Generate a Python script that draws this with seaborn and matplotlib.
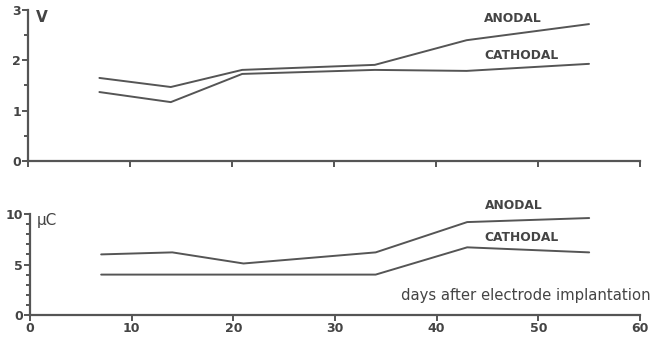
import matplotlib
matplotlib.use("Agg")
import matplotlib.pyplot as plt
import seaborn as sns
import pandas as pd
from matplotlib.ticker import MultipleLocator

# Measurement days after electrode implantation
days = [7, 14, 21, 34, 43, 55]

# Threshold voltage (V)
voltage_anodal = [1.65, 1.47, 1.81, 1.91, 2.40, 2.72]
voltage_cathodal = [1.37, 1.17, 1.73, 1.81, 1.79, 1.93]

# Threshold charge (µC)
charge_anodal = [6.0, 6.2, 5.1, 6.2, 9.2, 9.6]
charge_cathodal = [4.0, 4.0, 4.0, 4.0, 6.7, 6.2]

x_ticks = [0, 10, 20, 30, 40, 50, 60]

ink = "#555555"
text_ink = "#444444"

sns.set_theme(style="white")
plt.rcParams["font.family"] = ["DejaVu Sans"]

volt = pd.DataFrame({
    "day": days * 2,
    "value": voltage_anodal + voltage_cathodal,
    "polarity": ["ANODAL"] * len(days) + ["CATHODAL"] * len(days),
})
charge = pd.DataFrame({
    "day": days * 2,
    "value": charge_anodal + charge_cathodal,
    "polarity": ["ANODAL"] * len(days) + ["CATHODAL"] * len(days),
})

fig = plt.figure(figsize=(6.52, 3.37), dpi=100)
W, H = 652, 337
ax1 = fig.add_axes([28 / W, 1 - 161 / H, (640 - 28) / W, (161 - 10) / H])
ax2 = fig.add_axes([30 / W, 1 - 315 / H, (640 - 30) / W, (315 - 214) / H])

palette = {"ANODAL": ink, "CATHODAL": ink}
sns.lineplot(data=volt, x="day", y="value", hue="polarity", palette=palette,
             ax=ax1, legend=False, linewidth=1.4)
sns.lineplot(data=charge, x="day", y="value", hue="polarity", palette=palette,
             ax=ax2, legend=False, linewidth=1.4)

for ax in (ax1, ax2):
    ax.set_xlim(0, 60)
    ax.set_xticks(x_ticks)
    ax.set_xlabel("")
    ax.set_ylabel("")
    ax.set_facecolor("none")
    for side in ("top", "right"):
        ax.spines[side].set_visible(False)
    for side in ("left", "bottom"):
        ax.spines[side].set_color(ink)
        ax.spines[side].set_linewidth(1.6)
    ax.tick_params(axis="both", which="both", direction="out", color=ink,
                   width=1.4, labelcolor=text_ink, labelsize=9, pad=1,
                   bottom=True, left=True)
    ax.tick_params(axis="both", which="major", length=4)
    ax.tick_params(axis="y", which="minor", length=3)
    for lab in ax.get_xticklabels() + ax.get_yticklabels():
        lab.set_fontweight("bold")

# Upper panel: voltage
ax1.set_ylim(0, 3)
ax1.set_yticks([0, 1, 2, 3])
ax1.yaxis.set_minor_locator(MultipleLocator(0.5))
ax1.set_xticklabels([])
ax1.text(0.8, 2.85, "V", fontsize=11, fontweight="bold", color=text_ink,
         va="center", ha="left")
ax1.text(44.7, 2.83, "ANODAL", fontsize=8.8, fontweight="bold", color=text_ink,
         va="center", ha="left")
ax1.text(44.7, 2.1, "CATHODAL", fontsize=8.8, fontweight="bold", color=text_ink,
         va="center", ha="left")

# Lower panel: charge
ax2.set_ylim(0, 10)
ax2.set_yticks([0, 5, 10])
ax2.yaxis.set_minor_locator(MultipleLocator(1))
for lab in ax2.get_yticklabels() + ax2.get_xticklabels():
    lab.set_fontweight("bold")
ax2.text(0.7, 9.4, "\u00b5C", fontsize=11, color=text_ink, va="center", ha="left")
ax2.text(44.7, 10.8, "ANODAL", fontsize=8.8, fontweight="bold", color=text_ink,
         va="center", ha="left")
ax2.text(44.7, 7.7, "CATHODAL", fontsize=8.8, fontweight="bold", color=text_ink,
         va="center", ha="left")
ax2.text(61.0, 1.9, "days after electrode implantation", fontsize=10.7,
         color=text_ink, va="center", ha="right")

fig.savefig("out.png", dpi=100)
